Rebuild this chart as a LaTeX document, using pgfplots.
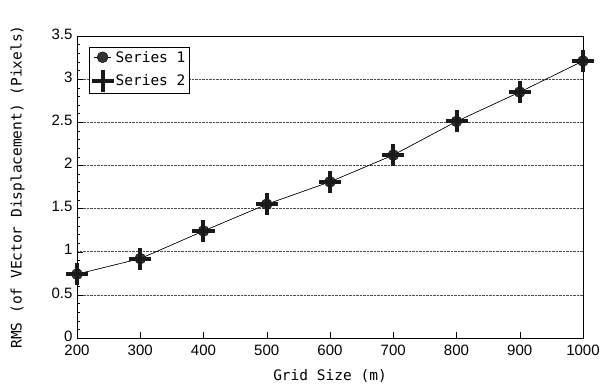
\documentclass[border=0pt]{standalone}
\usepackage{pgfplots}
\pgfplotsset{compat=1.18}
\usetikzlibrary{calc}
\usepackage{fontspec}
\setmainfont{Liberation Sans}
\newfontfamily\monofont{DejaVu Sans Mono}
\begin{document}
\begin{tikzpicture}[x=1pt,y=1pt]
\begin{axis}[
  scale only axis,
  width=506pt, height=302pt,
  xmin=200, xmax=1000, ymin=0, ymax=3.5,
  xtick={200,300,...,1000},
  xticklabels={200,300,400,500,600,700,800,900,1000},
  ytick={0,0.5,...,3.5},
  minor y tick num=4,
  yticklabels={0,0.5,1,1.5,2,2.5,3,3.5},
  tick align=inside,
  xtick pos=bottom, ytick pos=left,
  major tick length=6pt, minor tick length=3.5pt,
  tick style={black, thin},
  ymajorgrids,
  major grid style={densely dotted, black!70, line width=0.6pt},
  ticklabel style={font=\fontsize{15}{17}\selectfont},
  yticklabel style={xshift=-1pt, yshift=2pt},
  xticklabel style={yshift=-3pt},
  xlabel={\monofont Grid Size (m)},
  ylabel={\monofont RMS (of VEctor Displacement) (Pixels)},
  label style={font=\fontsize{14.5}{16}\selectfont},
  xlabel style={yshift=-7pt},
  ylabel style={yshift=20pt},
  axis line style={black, line width=0.9pt},
  legend style={at={(0.024,0.965)}, anchor=north west, draw=black, line width=0.9pt,
    font=\monofont\fontsize{14.5}{16}\selectfont, inner sep=2pt, row sep=4pt},
  legend cell align=left,
]
\addplot[black, thin, mark=*, mark size=5.5pt, mark options={fill=black!80, draw=black}]
  coordinates {(200,0.74) (300,0.92) (400,1.24) (500,1.55) (600,1.81) (700,2.12) (800,2.51) (900,2.85) (1000,3.21)};
\addlegendentry{Series 1}
\addplot[black, thin, mark=+, mark size=11pt, mark options={line width=4pt, black!90}]
  coordinates {(200,0.74) (300,0.92) (400,1.24) (500,1.55) (600,1.81) (700,2.12) (800,2.51) (900,2.85) (1000,3.21)};
\addlegendentry{Series 2}
\end{axis}
\useasboundingbox ($(current axis.south west)+(-77pt,-45pt)$) rectangle ($(current axis.north east)+(21pt,36pt)$);
\end{tikzpicture}
\end{document}
